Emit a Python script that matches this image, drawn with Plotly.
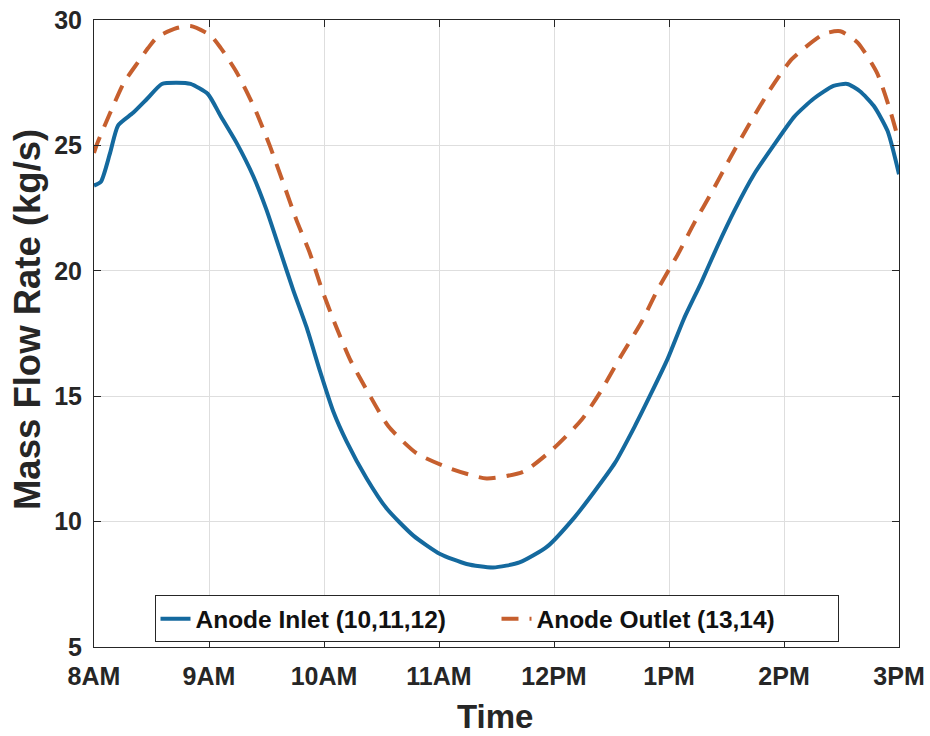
import plotly.graph_objects as go

# Hours after 8AM
inlet_t = [0.00, 0.06, 0.14, 0.21, 0.34, 0.46, 0.59, 0.72, 0.84, 0.99, 1.10, 1.24, 1.385, 1.50, 1.617,
           1.733, 1.849, 1.965, 2.08, 2.197, 2.371, 2.545, 2.777, 3.009, 3.24, 3.47, 3.70, 3.94, 4.18,
           4.35, 4.53, 4.70, 4.84, 4.99, 5.13, 5.28, 5.42, 5.57, 5.74, 5.91, 6.09, 6.26, 6.43, 6.55,
           6.66, 6.78, 6.90, 7.00]
inlet_v = [23.40, 23.55, 24.70, 25.80, 26.30, 26.85, 27.45, 27.50, 27.45, 27.05, 26.18, 25.10, 23.77, 22.43, 20.82,
           19.22, 17.74, 16.00, 14.40, 13.19, 11.72, 10.52, 9.44, 8.71, 8.31, 8.17, 8.37, 9.00, 10.18,
           11.19, 12.34, 13.78, 15.07, 16.51, 18.09, 19.53, 20.97, 22.41, 23.85, 25.00, 26.15, 26.87, 27.37, 27.45,
           27.16, 26.58, 25.58, 23.85]

outlet_t = [0.00, 0.03, 0.14, 0.26, 0.38, 0.47, 0.55, 0.72, 0.84, 1.01, 1.10, 1.24, 1.40, 1.53, 1.646,
            1.76, 1.878, 1.98, 2.096, 2.226, 2.386, 2.56, 2.806, 3.096, 3.414, 3.733, 3.98, 4.24, 4.41,
            4.58, 4.76, 4.90, 5.08, 5.22, 5.38, 5.54, 5.70, 5.88, 6.07, 6.35, 6.49, 6.64, 6.81, 6.92, 7.00]
outlet_v = [24.70, 25.10, 26.29, 27.50, 28.30, 28.88, 29.32, 29.68, 29.76, 29.40, 28.90, 27.92, 26.45, 24.97, 23.50,
            22.03, 20.69, 19.28, 17.88, 16.47, 15.13, 13.80, 12.72, 12.12, 11.72, 11.99, 12.85, 14.06, 15.22,
            16.58, 17.95, 19.24, 20.68, 21.91, 23.20, 24.57, 25.86, 27.23, 28.45, 29.45, 29.55, 29.10, 27.88, 26.44, 25.15]

tick_vals = [0, 1, 2, 3, 4, 5, 6, 7]
tick_text = ["8AM", "9AM", "10AM", "11AM", "12PM", "1PM", "2PM", "3PM"]
y_ticks = [5, 10, 15, 20, 25, 30]

FONT = "Arial, Liberation Sans, Helvetica, sans-serif"
AX = "#262626"

fig = go.Figure()
fig.add_trace(go.Scatter(x=inlet_t, y=inlet_v, mode="lines", name="Anode Inlet (10,11,12)",
                         line=dict(color="#14699E", width=4, shape="spline", smoothing=0.6)))
fig.add_trace(go.Scatter(x=outlet_t, y=outlet_v, mode="lines", name="Anode Outlet (13,14)",
                         line=dict(color="#C65F2E", width=4, dash="17px,11px", shape="spline", smoothing=0.6)))

fig.update_layout(
    template="none",
    width=930, height=736,
    margin=dict(l=94, r=31, t=20, b=89, autoexpand=False),
    paper_bgcolor="white", plot_bgcolor="white",
    font=dict(family=FONT, color=AX, size=24, weight="bold"),
    showlegend=True,
    legend=dict(orientation="h", x=0.5, xanchor="center", y=0.045, yanchor="middle",
                bordercolor=AX, borderwidth=1, bgcolor="white",
                font=dict(family=FONT, size=24.5, color="#111111", weight="bold"),
                entrywidth=296, entrywidthmode="pixels"),
    xaxis=dict(range=[0, 7], tickvals=tick_vals, ticktext=tick_text, showgrid=True, gridcolor="#DEDEDE",
               gridwidth=1, zeroline=False, showline=True, linecolor=AX, linewidth=1, mirror="ticks",
               ticks="inside", ticklen=7, tickcolor=AX, ticklabelstandoff=7, automargin=False,
               ticklabeloverflow="allow",
               tickfont=dict(family=FONT, size=25, color=AX, weight="bold")),
    yaxis=dict(range=[5, 30], tickvals=y_ticks, showgrid=True, gridcolor="#DEDEDE", gridwidth=1,
               zeroline=False, showline=True, linecolor=AX, linewidth=1, mirror="ticks",
               ticks="inside", ticklen=7, tickcolor=AX, ticklabelstandoff=6, automargin=False,
               ticklabeloverflow="allow",
               tickfont=dict(family=FONT, size=25, color=AX, weight="bold")),
    annotations=[
        dict(text="Time", xref="paper", yref="paper", x=0.498, y=-0.1116, xanchor="center", yanchor="middle",
             showarrow=False, font=dict(family=FONT, size=33, color=AX, weight="bold")),
        dict(text="Mass Flow Rate (kg/s)", xref="paper", yref="paper", x=-0.0832, y=0.5215,
             xanchor="center", yanchor="middle", textangle=-90, showarrow=False,
             font=dict(family=FONT, size=36.5, color=AX, weight="bold")),
    ],
)

fig.write_html("out.html", config={"displayModeBar": False},
               post_script="document.body.style.margin='0px';document.body.style.overflow='hidden';")
